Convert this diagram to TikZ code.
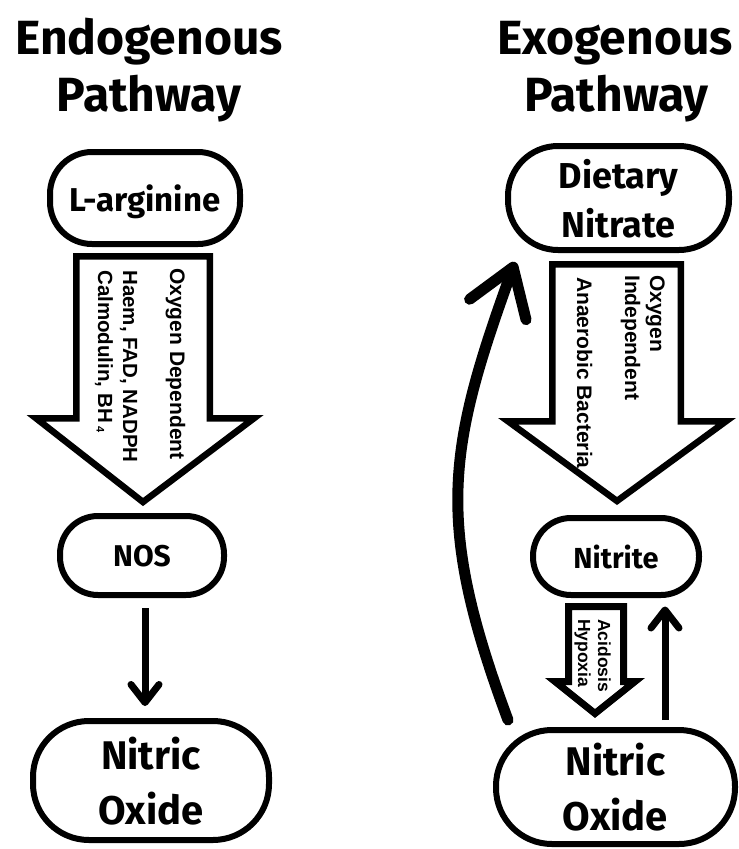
\documentclass[tikz,border=0pt]{standalone}
\usepackage{fontspec}
\setmainfont{Fira Sans}
\newfontfamily\labfont{Liberation Sans}
\usetikzlibrary{arrows.meta}
\tikzset{
  pbox/.style={draw, line width=6pt, rounded corners=#1, align=center, inner sep=0pt, text depth=0pt, font=\bfseries},
  title/.style={anchor=base, inner sep=0pt, font=\bfseries\fontsize{48}{57}\selectfont},
  blockarrow/.style={draw, line width=6.5pt, line join=miter, fill=white},
  lab/.style={rotate=-90, anchor=base west, inner sep=0pt},
  thinarrow/.style={line width=7pt, -{Straight Barb[length=18pt, width=28pt, round]}},
}
\begin{document}
\begin{tikzpicture}[x=1pt, y=-1pt]
\useasboundingbox[fill=white] (0,0) rectangle (739,849);

% titles
\node[title] (t1) at (149,54) {Endogenous};
\node[title] (t2) at (149,111) {Pathway};
\node[title] (t3) at (615,54) {Exogenous};
\node[title] (t4) at (616.5,111) {Pathway};

% left column boxes
\node[pbox=42pt, minimum width=190pt, minimum height=92pt, font=\bfseries\fontsize{33}{40}\selectfont] (arg) at (145,198) {L-arginine};
\node[pbox=38pt, minimum width=164pt, minimum height=79pt, font=\bfseries\fontsize{30}{36}\selectfont] (nos) at (142,555.5) {NOS};
\node[pbox=56pt, minimum width=236pt, minimum height=119pt, font=\bfseries\fontsize{40}{55}\selectfont] (noL) at (151,780.5) {Nitric\\Oxide};

% right column boxes
\node[pbox=50pt, minimum width=221pt, minimum height=104pt, font=\bfseries\fontsize{36}{49}\selectfont] (diet) at (618.5,198) {Dietary\\Nitrate};
\node[pbox=38pt, minimum width=166pt, minimum height=77pt, font=\bfseries\fontsize{29}{35}\selectfont] (nitrite) at (616,556.5) {Nitrite};
\node[pbox=56pt, minimum width=239pt, minimum height=114pt, font=\bfseries\fontsize{40}{55}\selectfont] (noR) at (615.5,787) {Nitric\\Oxide};

% big block arrow left
\draw[blockarrow] (76.25,256.25) -- (209.75,256.25) -- (209.75,418.25) -- (254,418.25)
  -- (143,502) -- (36,418.25) -- (76.25,418.25) -- cycle;
\node[lab, font=\labfont\bfseries\fontsize{21}{25}\selectfont] (l1) at (170,268) {Oxygen Dependent};
\node[lab, font=\labfont\bfseries\fontsize{20.5}{25}\selectfont] (l2) at (123,270) {Haem, FAD, NADPH};
\node[lab, font=\labfont\bfseries\fontsize{20.5}{25}\selectfont] (l3) at (98,270) {Calmodulin, BH\kern4pt\raisebox{-1.5pt}{\fontsize{11}{11}\selectfont 4}};

% big block arrow right
\draw[blockarrow] (552.25,264.25) -- (680.75,264.25) -- (680.75,421.25) -- (726,421.25)
  -- (617,501) -- (508,421.25) -- (552.25,421.25) -- cycle;
\node[lab, font=\labfont\bfseries\fontsize{21}{25}\selectfont] (r1) at (650,275) {Oxygen};
\node[lab, font=\labfont\bfseries\fontsize{21}{25}\selectfont] (r2) at (625,275) {Independent};
\node[lab, font=\labfont\bfseries\fontsize{21}{25}\selectfont] (r3) at (577,277) {Anaerobic Bacteria};

% small block arrow
\draw[blockarrow, line width=7pt] (568.5,606.5) -- (623.5,606.5) -- (623.5,681.5) -- (635,681.5)
  -- (595,713.5) -- (555,681.5) -- (568.5,681.5) -- cycle;
\node[lab, font=\labfont\bfseries\fontsize{17.5}{20}\selectfont] (s1) at (598,619) {Acidosis};
\node[lab, font=\labfont\bfseries\fontsize{17.5}{20}\selectfont] (s2) at (578,619) {Hypoxia};

% thin arrows
\coordinate (xL) at (145,0);
\coordinate (xR) at (665,0);
\draw[thinarrow, shorten <=10pt, shorten >=12pt] (nos.south -| xL) -- (noL.north -| xL);
\draw[thinarrow, shorten <=7pt, shorten >=8.5pt] (noR.north -| xR) -- (nitrite.south -| xR);

% curved recycling arrow
\coordinate (cs) at (508,720);
\coordinate (ce) at (515,262);
\draw[line width=11pt, line cap=round, -{Straight Barb[length=45pt, width=60pt, round]}]
  (cs) .. controls (434.5,522.6) and (447,450) .. (ce);
\end{tikzpicture}
\end{document}
